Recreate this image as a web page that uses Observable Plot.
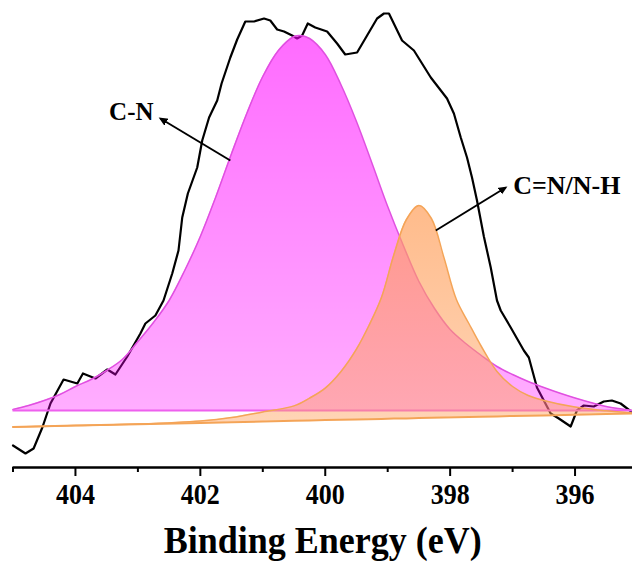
<!DOCTYPE html>
<html><head><meta charset="utf-8">
<script src="https://cdn.jsdelivr.net/npm/d3@7"></script>
<script src="https://cdn.jsdelivr.net/npm/@observablehq/plot@0.6"></script>
<style>body{margin:0;background:#fff} svg{display:block}</style>
</head><body><div id="chart"></div>
<script>
// Measured N 1s spectrum (binding energy eV, intensity a.u.)
const measuredE = [405.00,404.80,404.67,404.53,404.40,404.19,403.97,403.88,403.68,403.49,403.36,403.17,402.96,402.88,402.72,402.59,402.45,402.35,402.29,402.20,402.05,401.97,401.86,401.73,401.66,401.52,401.41,401.28,401.14,400.98,400.88,400.77,400.66,400.53,400.45,400.37,400.28,400.16,399.97,399.81,399.68,399.49,399.33,399.17,399.06,398.98,398.77,398.58,398.31,398.05,397.94,397.83,397.73,397.65,397.57,397.46,397.35,397.25,397.19,397.03,396.82,396.74,396.61,396.39,396.26,396.07,395.97,395.86,395.70,395.54,395.41,395.27,395.08];
const measuredI = [22,14,19,40,64,88,84,94,89,98,93,111,134,144,152,167,194,217,250,274,300,327,350,367,384,410,428,446,446,449,447,438,436,432,429,432,444,440,436,424,413,415,432,449,454,454,427,417,390,369,354,330,310,290,267,231,200,167,157,140,117,110,80,54,49,41,57,62,61,66,67,64,55];

// C-N component fit
const cnE = [405,404.75,404.5,404.25,404,403.75,403.5,403.25,403,402.75,402.5,402.25,402,401.75,401.5,401.25,401,400.75,400.5,400.4,400.25,400,399.75,399.5,399.25,399,398.75,398.5,398.25,398,397.75,397.5,397.25,397,396.75,396.5,396.25,396,395.75,395.5,395.25,395.08];
const cnI = [58,62,67,73,81,88,97,108,126,145,167,197,231,271,314,355,391,417,431,432,429,413,383,346,304,261,222,186,159,138,124,112,101,93,86,80,74.5,69.5,65,61,58.5,57];
const cnBaseline = 57;

// C=N / N-H component fit (with its sloped background)
const cnhE = [405,404,403,402,401.5,401,400.5,400.25,400,399.75,399.5,399.3,399.1,398.9,398.7,398.5,398.3,398.1,397.9,397.7,397.5,397.25,397,396.75,396.5,396,395.5,395.08];
const cnhI = [40.5,41.9,43.5,46.6,50,55.6,61.6,69.4,79.4,95.8,118.4,142,170,213,248,262,249,210,168,144,121,96,81,72,67,60.4,56.7,54.5];
const cnhB = [40.5,41.9,43.2,44.6,45.3,46.0,46.7,47.0,47.4,47.7,48.0,48.3,48.6,48.9,49.1,49.4,49.7,50.0,50.2,50.5,50.8,51.1,51.5,51.8,52.1,52.8,53.5,54.1];

const majorTicks = [404,402,400,398,396];
const minorTicks = [405,403,401,399,397];
const xTitle = "Binding Energy (eV)";

const labelsLeft = [{text:"C-N", E:402.75, I:356}];
const labelsRight = [{text:"C=N/N-H", E:396.99, I:282}];
const arrows = [
  {E1:401.52, I1:307, E2:402.64, I2:349},
  {E1:398.23, I1:237, E2:397.11, I2:280}
];

const measured = measuredE.map((E,i)=>({E, I: measuredI[i]}));
const cn = cnE.map((E,i)=>({E, I: cnI[i]}));
const cnh = cnhE.map((E,i)=>({E, I: cnhI[i], B: cnhB[i]}));

const font = "'Liberation Serif','Times New Roman',serif";
const chart = Plot.plot({
  width: 632, height: 567,
  marginLeft: 12.5, marginRight: 0, marginTop: 0, marginBottom: 100,
  x: {domain: [405, 395.08], label: null},
  y: {domain: [0, 467], axis: null},
  style: {fontFamily: font, background: "white", overflow: "visible", color: "black"},
  marks: [
    Plot.line(measured, {x:"E", y:"I", stroke:"black", strokeWidth:2.2}),
    Plot.areaY(cn, {x:"E", y1: cnBaseline, y2:"I", fill:"url(#cnGrad)", curve:"catmull-rom"}),
    Plot.line(cn, {x:"E", y:"I", stroke:"#e050e0", strokeWidth:1.5, curve:"catmull-rom"}),
    Plot.ruleY([cnBaseline], {stroke:"#ee60ee", strokeWidth:2}),
    Plot.areaY(cnh, {x:"E", y1:"B", y2:"I", fill:"url(#cnhGrad)", curve:"catmull-rom"}),
    Plot.line(cnh, {x:"E", y:"I", stroke:"#f4a457", strokeWidth:1.5, curve:"catmull-rom"}),
    Plot.line(cnh, {x:"E", y:"B", stroke:"#f4a457", strokeWidth:2}),
    Plot.ruleY([0], {stroke:"black", strokeWidth:2.5}),
    Plot.axisX(minorTicks, {tickSize:5, strokeWidth:2, tickFormat: () => "", label: null}),
    Plot.axisX(majorTicks, {tickSize:9, strokeWidth:2, tickPadding:6, fontSize:30, fontWeight:"bold", fontFamily: font, tickFormat: d => String(d), label: null}),
    Plot.text([xTitle], {frameAnchor:"bottom", dy:85, fontSize:38, fontWeight:"bold", fontFamily: font}),
    Plot.link(arrows, {x1:"E1", y1:"I1", x2:"E2", y2:"I2", stroke:"black", strokeWidth:2, markerEnd:"arrow"}),
    Plot.text(labelsLeft, {x:"E", y:"I", text:"text", textAnchor:"end", fontSize:25, fontWeight:"bold", fontFamily: font}),
    Plot.text(labelsRight, {x:"E", y:"I", text:"text", textAnchor:"start", fontSize:26, fontWeight:"bold", fontFamily: font})
  ]
});

const svg = d3.select(chart);
const defs = svg.insert("defs", ":first-child");
const g1 = defs.append("linearGradient").attr("id","cnGrad").attr("x1",0).attr("y1",0).attr("x2",0).attr("y2",1);
g1.append("stop").attr("offset","0%").attr("stop-color","#ff00ff").attr("stop-opacity",0.58);
g1.append("stop").attr("offset","100%").attr("stop-color","#ff00ff").attr("stop-opacity",0.32);
const g2 = defs.append("linearGradient").attr("id","cnhGrad").attr("x1",0).attr("y1",0).attr("x2",0).attr("y2",1);
g2.append("stop").attr("offset","0%").attr("stop-color","#ffa15e").attr("stop-opacity",0.72);
g2.append("stop").attr("offset","100%").attr("stop-color","#ffa15e").attr("stop-opacity",0.45);
svg.selectAll("marker").each(function(){
  const m = d3.select(this);
  m.attr("fill","black").attr("stroke","none");
  m.selectAll("path").attr("d","M-6,-3.3L1.5,0L-6,3.3Z");
});
// slightly condensed axis lettering, as in the reference
svg.selectAll("text").each(function(){
  const t = d3.select(this);
  const s = t.text();
  if (majorTicks.map(String).includes(s)) t.attr("textLength", 39).attr("lengthAdjust", "spacingAndGlyphs");
  if (s === xTitle) t.attr("textLength", 318).attr("lengthAdjust", "spacingAndGlyphs");
});

document.getElementById("chart").appendChild(chart);
</script>
</body></html>
